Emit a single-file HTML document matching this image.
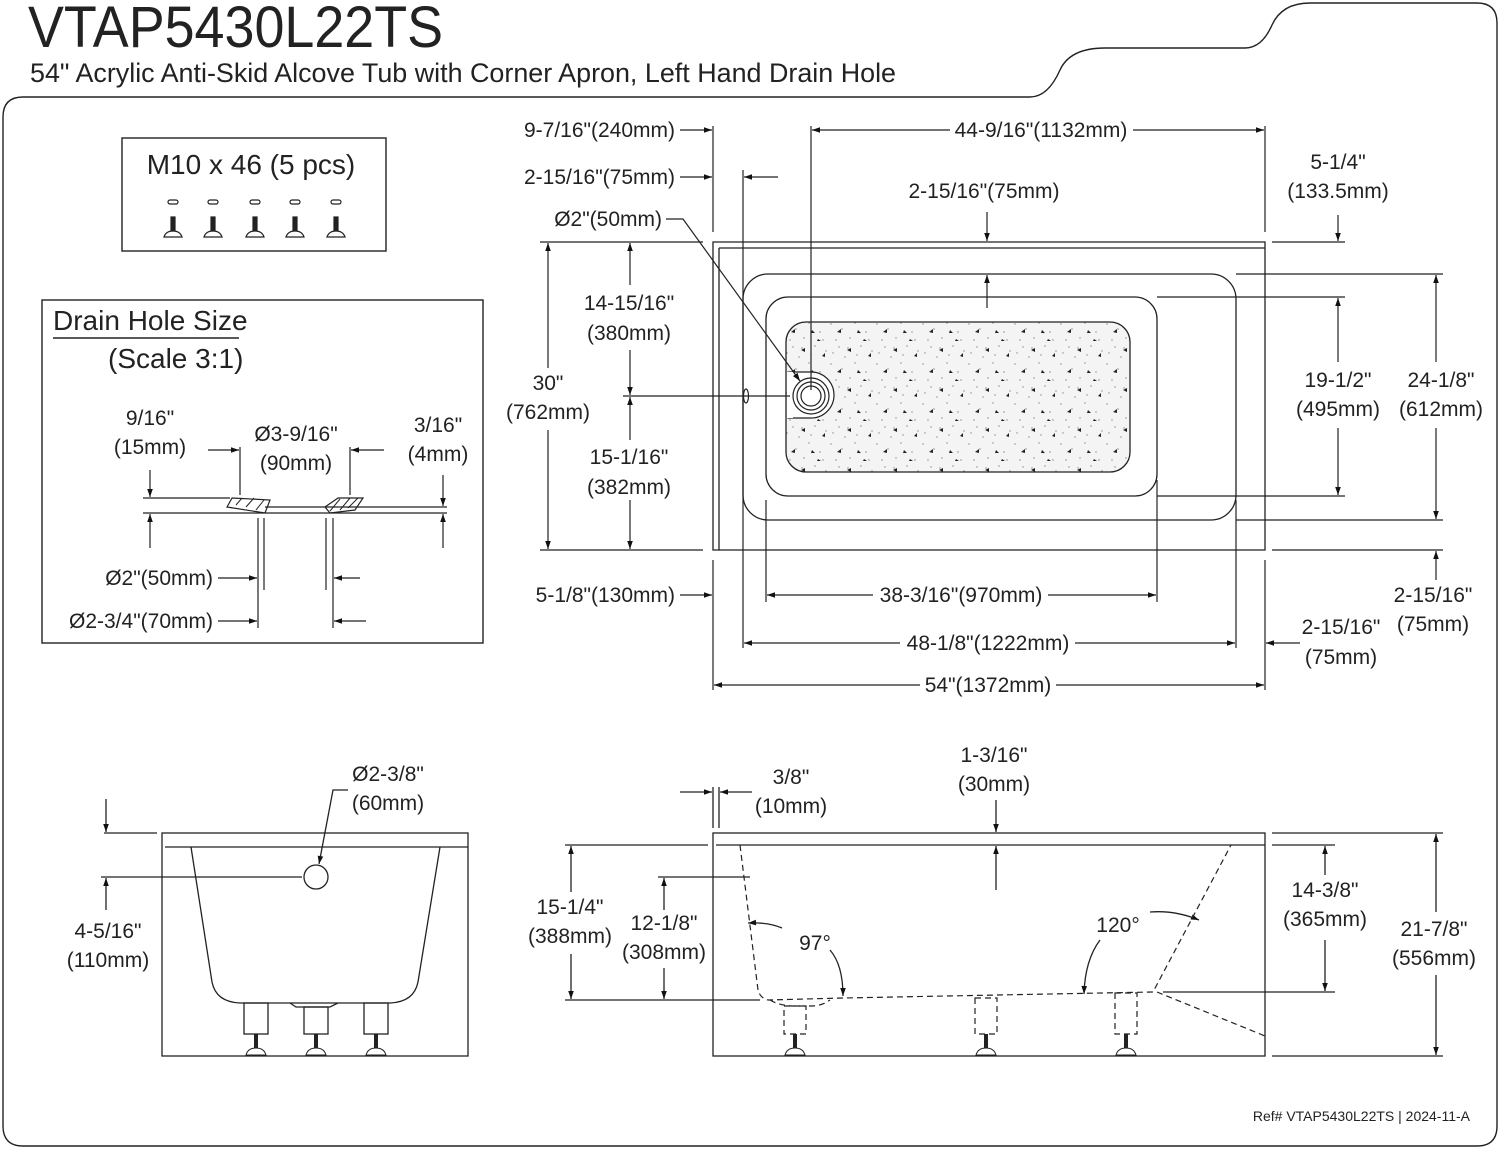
<!DOCTYPE html>
<html><head><meta charset="utf-8"><style>
html,body{margin:0;padding:0;background:#fff}
svg{display:block}
text{font-family:"Liberation Sans Narrow","Liberation Sans",sans-serif;fill:#222;font-size:21px}
.m{text-anchor:middle}.e{text-anchor:end}
</style></head><body>
<svg width="1500" height="1150" viewBox="0 0 1500 1150" xmlns="http://www.w3.org/2000/svg">
<defs>
<marker id="a" viewBox="0 0 10 10" refX="10" refY="5" markerWidth="14" markerHeight="8" orient="auto" markerUnits="userSpaceOnUse"><path d="M0,1.5 L10,5 L0,8.5z" fill="#111"/></marker>
<pattern id="tx" width="46" height="40" patternUnits="userSpaceOnUse">
<rect width="46" height="40" fill="#f4f4f4"/>
<g fill="#888"><circle cx="3" cy="4" r=".7"/><circle cx="14" cy="9" r=".7"/><circle cx="27" cy="3" r=".7"/><circle cx="38" cy="12" r=".7"/><circle cx="8" cy="20" r=".7"/><circle cx="22" cy="18" r=".7"/><circle cx="33" cy="26" r=".7"/><circle cx="44" cy="31" r=".7"/><circle cx="5" cy="33" r=".7"/><circle cx="17" cy="37" r=".7"/><circle cx="29" cy="35" r=".7"/><circle cx="41" cy="20" r=".7"/><circle cx="11" cy="27" r=".7"/><circle cx="20" cy="28" r=".7"/></g>
<g fill="#222"><path d="M9,12 l4,-3 v4z"/><path d="M30,10 l3,3 h-4z"/><path d="M19,30 l4,-2 v4z"/><path d="M40,36 l3,-3 v4z"/><path d="M36,19 l3,2 h-4z"/></g>
</pattern>
</defs>
<g fill="none" stroke="#222" stroke-width="1.4">
<path d="M3,117 Q3,97 23,97 H1030 Q1048,97 1060,70 Q1070,48 1105,48 H1245 Q1262,48 1272,25 Q1282,3 1310,3 H1477 Q1497,3 1497,23 V1126 Q1497,1146 1477,1146 H23 Q3,1146 3,1126 Z"/>
<rect x="122" y="138" width="264" height="113"/>
<rect x="42" y="300" width="441" height="343"/>
<line x1="53" y1="338" x2="239" y2="338"/>
</g>
<text x="28" y="47" style="font-size:58px" textLength="415" lengthAdjust="spacingAndGlyphs">VTAP5430L22TS</text>
<text x="30" y="82" style="font-size:27px" textLength="866" lengthAdjust="spacingAndGlyphs">54" Acrylic Anti-Skid Alcove Tub with Corner Apron, Left Hand Drain Hole</text>
<text x="251" y="174" class="m" style="font-size:28px">M10 x 46 (5 pcs)</text>
<g stroke="#222" stroke-width="1.2" fill="#fff">
<g id="b"><rect x="168" y="200" width="10" height="4" rx="2"/><rect x="171" y="217" width="4" height="14" fill="#222"/><path d="M164,237 Q166,231 173,231 Q180,231 182,237Z"/></g>
<use href="#b" x="40"/><use href="#b" x="82"/><use href="#b" x="122"/><use href="#b" x="163"/>
</g>
<text x="53" y="330" style="font-size:28px">Drain Hole Size</text>
<text x="108" y="368" style="font-size:28px">(Scale 3:1)</text>
<g fill="none" stroke="#222" stroke-width="1.2">
<line x1="143" y1="498" x2="230" y2="498"/><line x1="143" y1="513" x2="447" y2="513"/><line x1="265" y1="507" x2="447" y2="507"/>
<path d="M232,498 L270,500 L265,513 L227,507Z"/><path d="M325,507 L338,498 L363,498 L355,510 L330,513Z"/>
<path d="M236,505 l6,-7 M246,507 l8,-9 M256,510 l8,-10 M340,510 l10,-12 M330,511 l10,-12 M348,508 l10,-10" stroke-width="1"/>
<line x1="240" y1="447" x2="240" y2="495"/><line x1="350" y1="447" x2="350" y2="495"/>
<line x1="258" y1="518" x2="258" y2="628"/><line x1="264" y1="518" x2="264" y2="590"/>
<line x1="326" y1="518" x2="326" y2="590"/><line x1="333" y1="518" x2="333" y2="628"/>
<line x1="208" y1="450" x2="239" y2="450" marker-end="url(#a)"/><line x1="384" y1="450" x2="351" y2="450" marker-end="url(#a)"/>
<line x1="150" y1="470" x2="150" y2="497" marker-end="url(#a)"/><line x1="150" y1="548" x2="150" y2="514" marker-end="url(#a)"/>
<line x1="443" y1="475" x2="443" y2="506" marker-end="url(#a)"/><line x1="443" y1="548" x2="443" y2="514" marker-end="url(#a)"/>
<line x1="218" y1="578" x2="257" y2="578" marker-end="url(#a)"/><line x1="360" y1="578" x2="334" y2="578" marker-end="url(#a)"/>
<line x1="218" y1="621" x2="257" y2="621" marker-end="url(#a)"/><line x1="366" y1="621" x2="334" y2="621" marker-end="url(#a)"/>
</g>
<text x="150" y="425" class="m">9/16"</text><text x="150" y="454" class="m">(15mm)</text>
<text x="296" y="441" class="m">Ø3-9/16"</text><text x="296" y="470" class="m">(90mm)</text>
<text x="438" y="432" class="m">3/16"</text><text x="438" y="461" class="m">(4mm)</text>
<text x="213" y="585" class="e">Ø2"(50mm)</text><text x="213" y="628" class="e">Ø2-3/4"(70mm)</text>

<rect x="786" y="322" width="344" height="150" rx="20" fill="url(#tx)" stroke="#222" stroke-width="1.3"/>
<g fill="none" stroke="#222" stroke-width="1.3">
<path d="M713,242 H1265 V550 H713Z"/><path d="M719,248 H1265 M719,248 V550"/>
<rect x="743" y="274" width="493" height="246" rx="25"/>
<rect x="766" y="297" width="391" height="199" rx="22"/>
</g>
<path d="M788,372 H811 A23,23 0 0 1 811,418 H788Z" fill="#fff" stroke="#222" stroke-width="1.2"/>
<rect x="787" y="372" width="6" height="46" fill="#fff"/>
<g fill="none" stroke="#222" stroke-width="1.2">
<circle cx="811" cy="396" r="18"/><circle cx="811" cy="396" r="14"/><circle cx="811" cy="396" r="10"/>
<ellipse cx="746" cy="396" rx="2.5" ry="7"/>
<line x1="713" y1="126" x2="713" y2="232"/><line x1="713" y1="560" x2="713" y2="690"/>
<line x1="1265" y1="126" x2="1265" y2="232"/><line x1="1265" y1="560" x2="1265" y2="690"/>
<line x1="743" y1="170" x2="743" y2="648"/><line x1="766" y1="500" x2="766" y2="602"/>
<line x1="1157" y1="480" x2="1157" y2="602"/><line x1="1236" y1="500" x2="1236" y2="648"/>
<line x1="811" y1="126" x2="811" y2="390"/>
<line x1="1236" y1="274" x2="1443" y2="274"/><line x1="1157" y1="297" x2="1345" y2="297"/>
<line x1="1157" y1="496" x2="1345" y2="496"/><line x1="1236" y1="520" x2="1443" y2="520"/>
<line x1="1272" y1="242" x2="1345" y2="242"/><line x1="1272" y1="550" x2="1443" y2="550"/>
<line x1="540" y1="242" x2="703" y2="242"/><line x1="540" y1="550" x2="703" y2="550"/>
<line x1="623" y1="396" x2="790" y2="396"/>
<line x1="680" y1="130" x2="712" y2="130" marker-end="url(#a)"/>
<line x1="950" y1="130" x2="812" y2="130" marker-end="url(#a)"/><line x1="1133" y1="130" x2="1264" y2="130" marker-end="url(#a)"/>
<line x1="680" y1="177" x2="712" y2="177" marker-end="url(#a)"/><line x1="778" y1="177" x2="744" y2="177" marker-end="url(#a)"/>
<path d="M666,219 H683 L800,381" marker-end="url(#a)"/>
<line x1="987" y1="212" x2="987" y2="241" marker-end="url(#a)"/><line x1="987" y1="308" x2="987" y2="275" marker-end="url(#a)"/>
<line x1="1338" y1="215" x2="1338" y2="241" marker-end="url(#a)"/>
<line x1="548" y1="368" x2="548" y2="243" marker-end="url(#a)"/><line x1="548" y1="430" x2="548" y2="549" marker-end="url(#a)"/>
<line x1="630" y1="285" x2="630" y2="243" marker-end="url(#a)"/><line x1="630" y1="350" x2="630" y2="395" marker-end="url(#a)"/>
<line x1="630" y1="440" x2="630" y2="397" marker-end="url(#a)"/><line x1="630" y1="500" x2="630" y2="549" marker-end="url(#a)"/>
<line x1="1338" y1="362" x2="1338" y2="298" marker-end="url(#a)"/><line x1="1338" y1="428" x2="1338" y2="495" marker-end="url(#a)"/>
<line x1="1436" y1="362" x2="1436" y2="275" marker-end="url(#a)"/><line x1="1436" y1="428" x2="1436" y2="519" marker-end="url(#a)"/>
<line x1="1436" y1="580" x2="1436" y2="551" marker-end="url(#a)"/>
<line x1="1300" y1="643" x2="1266" y2="643" marker-end="url(#a)"/>
<line x1="680" y1="595" x2="712" y2="595" marker-end="url(#a)"/>
<line x1="873" y1="595" x2="767" y2="595" marker-end="url(#a)"/><line x1="1048" y1="595" x2="1156" y2="595" marker-end="url(#a)"/>
<line x1="900" y1="643" x2="744" y2="643" marker-end="url(#a)"/><line x1="1075" y1="643" x2="1235" y2="643" marker-end="url(#a)"/>
<line x1="920" y1="685" x2="714" y2="685" marker-end="url(#a)"/><line x1="1056" y1="685" x2="1264" y2="685" marker-end="url(#a)"/>
</g>
<text x="675" y="137" class="e">9-7/16"(240mm)</text>
<text x="675" y="184" class="e">2-15/16"(75mm)</text>
<text x="662" y="226" class="e">Ø2"(50mm)</text>
<text x="1041" y="137" class="m">44-9/16"(1132mm)</text>
<text x="984" y="198" class="m">2-15/16"(75mm)</text>
<text x="1338" y="169" class="m">5-1/4"</text><text x="1338" y="198" class="m">(133.5mm)</text>
<text x="629" y="310" class="m">14-15/16"</text><text x="629" y="340" class="m">(380mm)</text>
<text x="548" y="390" class="m">30"</text><text x="548" y="419" class="m">(762mm)</text>
<text x="629" y="464" class="m">15-1/16"</text><text x="629" y="494" class="m">(382mm)</text>
<text x="1338" y="387" class="m">19-1/2"</text><text x="1338" y="416" class="m">(495mm)</text>
<text x="1441" y="387" class="m">24-1/8"</text><text x="1441" y="416" class="m">(612mm)</text>
<text x="1433" y="602" class="m">2-15/16"</text><text x="1433" y="631" class="m">(75mm)</text>
<text x="1341" y="634" class="m">2-15/16"</text><text x="1341" y="664" class="m">(75mm)</text>
<text x="675" y="602" class="e">5-1/8"(130mm)</text>
<text x="961" y="602" class="m">38-3/16"(970mm)</text>
<text x="988" y="650" class="m">48-1/8"(1222mm)</text>
<text x="988" y="692" class="m">54"(1372mm)</text>

<g fill="none" stroke="#222" stroke-width="1.3">
<rect x="162" y="833" width="306" height="223"/><line x1="165" y1="847" x2="468" y2="847"/>
<path d="M191,847 L212,982 Q216,1002 240,1003 H390 Q414,1002 418,982 L440,847"/>
<path d="M290,1003 L296,1007 H330 L338,1003"/>
<circle cx="316" cy="877" r="12"/>
<rect x="244" y="1003" width="24" height="31"/><rect x="304" y="1007" width="24" height="27"/><rect x="364" y="1003" width="24" height="31"/>
<line x1="104" y1="833" x2="157" y2="833"/><line x1="101" y1="877" x2="302" y2="877"/>
<line x1="106" y1="799" x2="106" y2="832" marker-end="url(#a)"/><line x1="106" y1="910" x2="106" y2="878" marker-end="url(#a)"/>
<path d="M348,790 H333 L319,864" marker-end="url(#a)"/>
</g>
<g fill="#222"><rect x="254" y="1034" width="4" height="14"/><rect x="314" y="1034" width="4" height="14"/><rect x="374" y="1034" width="4" height="14"/>
<path d="M246,1055 Q248,1048 256,1048 Q264,1048 266,1055Z M306,1055 Q308,1048 316,1048 Q324,1048 326,1055Z M366,1055 Q368,1048 376,1048 Q384,1048 386,1055Z" fill="#fff" stroke="#222"/></g>
<text x="388" y="781" class="m">Ø2-3/8"</text><text x="388" y="810" class="m">(60mm)</text>
<text x="108" y="938" class="m">4-5/16"</text><text x="108" y="967" class="m">(110mm)</text>

<g fill="none" stroke="#222" stroke-width="1.3">
<rect x="713" y="833" width="552" height="223"/><line x1="716" y1="845" x2="1265" y2="845"/>
<line x1="713" y1="787" x2="713" y2="828"/><line x1="719" y1="787" x2="719" y2="828"/>
<line x1="680" y1="792" x2="712" y2="792" marker-end="url(#a)"/><line x1="752" y1="792" x2="720" y2="792" marker-end="url(#a)"/>
<line x1="996" y1="800" x2="996" y2="832" marker-end="url(#a)"/><line x1="996" y1="890" x2="996" y2="846" marker-end="url(#a)"/>
<line x1="565" y1="845" x2="708" y2="845"/><line x1="565" y1="1000" x2="760" y2="1000"/><line x1="658" y1="877" x2="750" y2="877"/>
<line x1="571" y1="892" x2="571" y2="846" marker-end="url(#a)"/><line x1="571" y1="954" x2="571" y2="999" marker-end="url(#a)"/>
<line x1="664" y1="910" x2="664" y2="878" marker-end="url(#a)"/><line x1="664" y1="968" x2="664" y2="999" marker-end="url(#a)"/>
<line x1="1272" y1="845" x2="1335" y2="845"/><line x1="1272" y1="833" x2="1443" y2="833"/><line x1="1272" y1="1056" x2="1443" y2="1056"/>
<line x1="1163" y1="992" x2="1335" y2="992"/>
<line x1="1325" y1="875" x2="1325" y2="846" marker-end="url(#a)"/><line x1="1325" y1="940" x2="1325" y2="991" marker-end="url(#a)"/>
<line x1="1436" y1="912" x2="1436" y2="834" marker-end="url(#a)"/><line x1="1436" y1="975" x2="1436" y2="1055" marker-end="url(#a)"/>
<path d="M782,928 Q768,922 748,923" marker-end="url(#a)"/><path d="M830,950 Q843,965 843,996" marker-end="url(#a)"/>
<path d="M1150,912 Q1175,910 1199,920" marker-end="url(#a)"/><path d="M1100,940 Q1085,960 1084,994" marker-end="url(#a)"/>
</g>
<g fill="none" stroke="#222" stroke-width="1.2" stroke-dasharray="6,4">
<path d="M740,845 L758,990 Q760,998 768,1000 L843,998 L1153,992 L1231,845"/>
<path d="M1157,992 L1265,1036"/>
<path d="M770,1000 Q780,1006 795,1006 H810 Q822,1006 830,1000"/>
<rect x="784" y="1006" width="22" height="28"/><rect x="975" y="998" width="22" height="36"/><rect x="1115" y="993" width="22" height="41"/>
</g>
<g fill="#222"><rect x="793" y="1034" width="4" height="14"/><rect x="984" y="1034" width="4" height="14"/><rect x="1124" y="1034" width="4" height="14"/></g>
<path d="M785,1055 Q787,1048 795,1048 Q803,1048 805,1055Z M976,1055 Q978,1048 986,1048 Q994,1048 996,1055Z M1116,1055 Q1118,1048 1126,1048 Q1134,1048 1136,1055Z" fill="#fff" stroke="#222"/>
<text x="791" y="784" class="m">3/8"</text><text x="791" y="813" class="m">(10mm)</text>
<text x="994" y="762" class="m">1-3/16"</text><text x="994" y="791" class="m">(30mm)</text>
<text x="570" y="914" class="m">15-1/4"</text><text x="570" y="943" class="m">(388mm)</text>
<text x="664" y="930" class="m">12-1/8"</text><text x="664" y="959" class="m">(308mm)</text>
<text x="815" y="950" class="m">97°</text><text x="1118" y="932" class="m">120°</text>
<text x="1325" y="897" class="m">14-3/8"</text><text x="1325" y="926" class="m">(365mm)</text>
<text x="1434" y="936" class="m">21-7/8"</text><text x="1434" y="965" class="m">(556mm)</text>
<text x="1470" y="1121" class="e" style="font-size:14px">Ref# VTAP5430L22TS | 2024-11-A</text>
</svg>
</body></html>
